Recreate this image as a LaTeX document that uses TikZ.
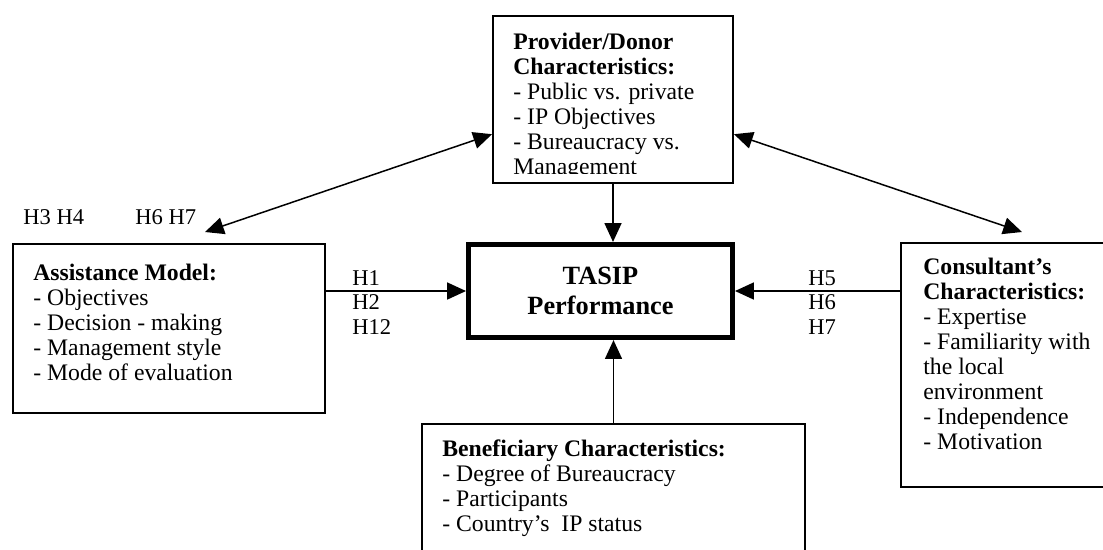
\documentclass[tikz,border=0pt]{standalone}
\usepackage{fontspec}
\setmainfont{Liberation Serif}
\usetikzlibrary{arrows.meta}

\begin{document}
\begin{tikzpicture}[
    x=0.532pt, y=-0.532pt,
    box/.style={rectangle, draw=black, line width=1pt, inner sep=0pt},
    boxtext/.style={anchor=base west, align=left, inner sep=0pt, font=\fontsize{12.6}{13.3}\selectfont},
    perfbox/.style={rectangle, draw=black, line width=2.7pt, minimum width=140.4pt, minimum height=49.5pt, align=center, font=\fontsize{14}{16}\selectfont\bfseries},
    hyp/.style={anchor=base west, align=left, inner sep=0pt, font=\fontsize{12}{13}\selectfont},
    arrow/.style={-{Triangle[length=10pt, width=9pt]}, line width=0.8pt},
    doublearrow/.style={{Triangle[length=10pt, width=9pt]}-{Triangle[length=10pt, width=9pt]}, line width=0.8pt}
]
\clip (0,0) rectangle (1103,549);

% Provider / donor
\node[box, minimum width=127.7pt, minimum height=88.8pt] (provider) at (613,99.5) {};
\begin{scope}
\clip (495,18) rectangle (731,173);
\node[boxtext] (providertext) at (513,174) {\textbf{Provider/Donor}\\\textbf{Characteristics:}\\- Public vs. private\\- IP Objectives\\- Bureaucracy vs.\\Management};
\end{scope}

% TASIP performance
\node[perfbox] (perf) at (600.5,291) {TASIP\\Performance};

% Assistance model
\node[box, minimum width=166pt, minimum height=89.9pt] (assist) at (169,328.5) {};
\node[boxtext] (assisttext) at (33,380) {\textbf{Assistance Model:}\\- Objectives\\- Decision - making\\- Management style\\- Mode of evaluation};

% Consultant
\node[box, minimum width=113.8pt, minimum height=129.8pt] (consult) at (1008,365) {};
\node[boxtext] (consulttext) at (923,449) {\textbf{Consultant’s}\\\textbf{Characteristics:}\\- Expertise\\- Familiarity with\\the local\\environment\\- Independence\\- Motivation};

% Beneficiary
\node[box, minimum width=203.8pt, minimum height=77.7pt] (benef) at (613.5,497) {};
\node[boxtext] (beneftext) at (442,531) {\textbf{Beneficiary Characteristics:}\\- Degree of Bureaucracy\\- Participants\\- Country’s~ IP status};

% Hypotheses
\node[hyp] (hleft) at (352,334) {H1\\H2\\H12};
\node[hyp] (hright) at (808,334) {H5\\H6\\H7};
\node[hyp] (htop1) at (23,224) {H3 H4};
\node[hyp] (htop2) at (135,224) {H6 H7};

% Connections
\draw[arrow] (provider.south) -- (provider.south |- perf.north);
\draw[arrow] (assist.east |- perf.west) -- (perf.west);
\draw[arrow] (consult.west |- perf.east) -- (perf.east);
\draw[arrow] (benef.north) -- (benef.north |- perf.south);

\coordinate (assisttip) at (205,232);
\coordinate (consulttip) at (1022,232);
\draw[doublearrow] (assisttip) -- (provider.196.5);
\draw[doublearrow] (provider.-16.5) -- (consulttip);

\end{tikzpicture}
\end{document}
